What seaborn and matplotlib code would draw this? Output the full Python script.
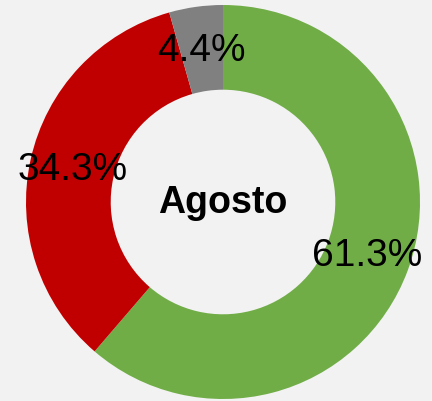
import matplotlib
matplotlib.use("Agg")
import matplotlib.pyplot as plt
import seaborn as sns

# --- data ---
categories = ["Verde", "Rojo", "Gris"]
shares = [61.3, 34.3, 4.4]
month = "Agosto"
colors = ["#70AD47", "#C00000", "#808080"]

sns.set_style("white")
plt.rcParams["font.family"] = ["Liberation Sans", "DejaVu Sans"]

fig = plt.figure(figsize=(4.32, 4.02), dpi=100, facecolor="#F2F2F2")
ax = fig.add_axes([26 / 432, 2 / 402, 394 / 432, 394 / 402])
ax.set_facecolor("#F2F2F2")

palette = sns.color_palette(colors)
wedges, texts, autotexts = ax.pie(
    shares, colors=palette, startangle=90, counterclock=False,
    autopct="%.1f%%", pctdistance=0.78, radius=1.0,
    wedgeprops=dict(width=0.43, linewidth=0),
    textprops=dict(fontsize=28, color="black"),
)
ax.text(0, 0, month, ha="center", va="center", fontsize=27,
        fontweight="bold", color="black")
ax.set_xlim(-1, 1)
ax.set_ylim(-1, 1)
ax.set_aspect("equal")
ax.axis("off")

fig.savefig("out.png", dpi=100, facecolor=fig.get_facecolor())
